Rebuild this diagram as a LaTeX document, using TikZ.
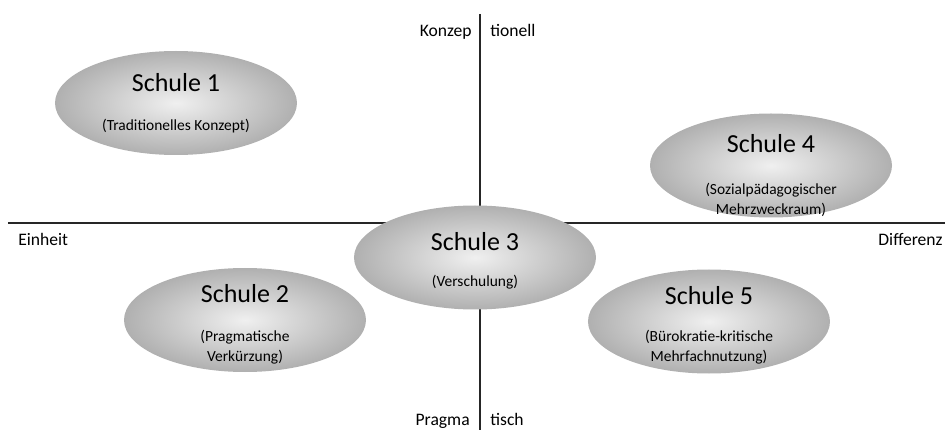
\documentclass[tikz,border=0pt]{standalone}
\usepackage{fontspec}
\setmainfont{Carlito}
\usetikzlibrary{shapes}
\tikzstyle{schule} = [ellipse, shade, inner color=gray!12, outer color=gray!62,
    minimum width=4.84cm, minimum height=2.08cm, inner sep=0pt]
\tikzstyle{titel} = [anchor=base, font=\fontsize{14.8}{17}\selectfont, inner sep=0pt]
\tikzstyle{untertitel} = [anchor=base, align=center, font=\fontsize{8.8}{11.4}\selectfont, inner sep=0pt]
\tikzstyle{achse} = [draw, black!85, line width=0.9pt]
\tikzstyle{pol} = [font=\fontsize{10}{12}\selectfont, inner sep=0pt]

\begin{document}
\begin{tikzpicture}
    \useasboundingbox (-9.6,-4.14) rectangle (9.3,4.46);
    % Draw axes
    \coordinate (oben) at (0,4.18);
    \coordinate (unten) at (0,-4.14);
    \coordinate (links) at (-9.44,0);
    \coordinate (rechts) at (9.3,0);
    \path [achse] (oben) -- (unten);
    \path [achse] (links) -- (rechts);
    % Axis labels
    \node [pol, anchor=base east] (konzep) at (-0.16,3.73) {Konzep};
    \node [pol, anchor=base west] (tionell) at (0.2,3.73) {tionell};
    \node [pol, anchor=base east] (pragma) at (-0.2,-4.04) {Pragma};
    \node [pol, anchor=base west] (tisch) at (0.2,-4.04) {tisch};
    \node [pol, anchor=base west] (einheit) at (-9.24,-0.46) {Einheit};
    \node [pol, anchor=base east] (differenz) at (9.26,-0.46) {Differenz};
    % Place nodes
    \node [schule] (s1) at (-6.08,2.40) {};
    \node [titel] (t1) at ([yshift=0.23cm]s1.center) {Schule 1};
    \node [untertitel] (u1) at ([yshift=-0.56cm]s1.center) {(Traditionelles Konzept)};
    \node [schule] (s2) at (-4.70,-1.94) {};
    \node [titel] (t2) at ([yshift=0.34cm]s2.center) {Schule 2};
    \node [untertitel] (u2) at ([yshift=-0.84cm]s2.center) {(Pragmatische\\Verkürzung)};
    \node [schule] (s3) at (-0.10,-0.69) {};
    \node [titel] (t3) at ([yshift=0.13cm]s3.center) {Schule 3};
    \node [untertitel] (u3) at ([yshift=-0.59cm]s3.center) {(Verschulung)};
    \node [schule] (s4) at (5.82,1.15) {};
    \node [titel] (t4) at ([yshift=0.26cm]s4.center) {Schule 4};
    \node [untertitel] (u4) at ([yshift=-0.98cm]s4.center) {(Sozialpädagogischer\\Mehrzweckraum)};
    \node [schule] (s5) at (4.58,-1.97) {};
    \node [titel] (t5) at ([yshift=0.33cm]s5.center) {Schule 5};
    \node [untertitel] (u5) at ([yshift=-0.81cm]s5.center) {(Bürokratie-kritische\\Mehrfachnutzung)};
\end{tikzpicture}
\end{document}
